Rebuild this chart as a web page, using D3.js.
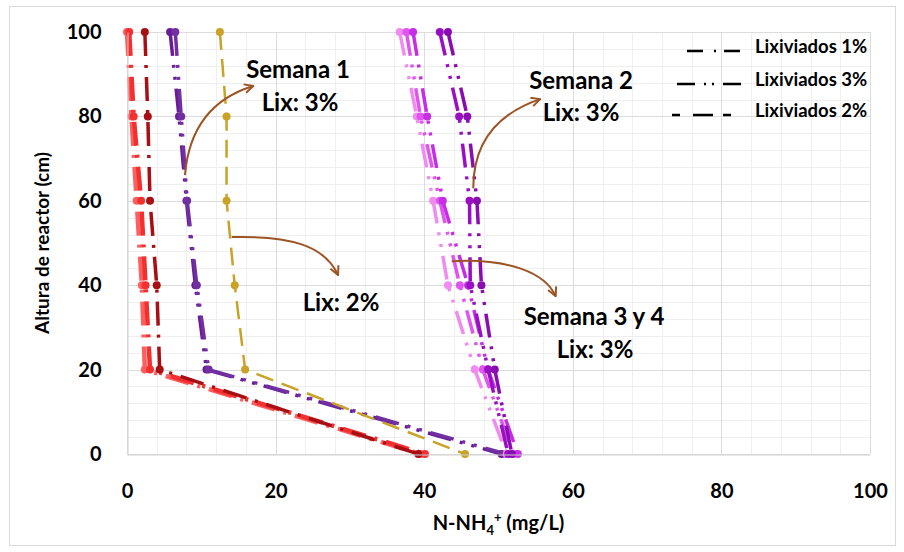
<!DOCTYPE html>
<html>
<head>
<meta charset="utf-8">
<script src="https://cdn.jsdelivr.net/npm/d3@7"></script>
<style>
  body { margin: 0; background: #fff; }
  text { font-family: Lato, "Open Sans", sans-serif; font-weight: 700; fill: #000; }
</style>
</head>
<body>
<div id="chart"></div>
<script>
// alturas del reactor (cm), comunes a todas las series
var heights = [100, 80, 60, 40, 20, 0];

// N-NH4+ (mg/L) leido en cada altura
// lixiviados 1%
var lix1_a = [0.0, 0.6, 1.3, 2.0, 2.4, 39.5];
var lix1_b = [0.3, 0.9, 1.9, 2.5, 3.1, 40.1];
var lix1_c = [2.4, 2.8, 3.1, 4.0, 4.4, 39.2];
// semana 1, lix 3%
var sem1_a = [5.8, 7.0, 8.0, 9.2, 10.7, 50.4];
var sem1_b = [6.5, 7.3, 8.1, 9.4, 11.0, 51.0];
// lix 2%
var lix2 = [12.5, 13.4, 13.4, 14.5, 15.9, 45.5];
// semana 3 y 4, lix 3%
var sem3_a = [36.7, 39.0, 41.2, 43.2, 46.8, 51.1];
var sem3_b = [37.6, 39.5, 42.1, 44.8, 47.9, 52.0];
var sem4_a = [38.5, 40.4, 42.5, 45.9, 48.6, 52.6];
// semana 2, lix 3%
var sem2_a = [42.1, 44.7, 46.1, 46.2, 48.6, 51.3];
var sem2_b = [43.2, 45.8, 47.1, 47.7, 49.5, 51.8];

var xTicks = [0, 20, 40, 60, 80, 100];
var yTicks = [0, 20, 40, 60, 80, 100];
var legendLabels = ["Lixiviados 1%", "Lixiviados 3%", "Lixiviados 2%"];

var width = 904, height = 552;
var margin = {left: 127, right: 34, top: 32, bottom: 98};

var svg = d3.select("#chart").append("svg")
    .attr("width", width)
    .attr("height", height);

var x = d3.scaleLinear().domain([0, 100]).range([margin.left, width - margin.right]);
var y = d3.scaleLinear().domain([0, 100]).range([height - margin.bottom, margin.top]);

var dashDot = "24,9,3,9";
var dashDotDot = "24,9,3,9,3,9";
var dashed = "18,9";

var series = [
    {v: lix1_a, color: "#ff5f5f", dash: dashDot, w: 4.5},
    {v: lix1_b, color: "#f23030", dash: dashDot, w: 4.5},
    {v: lix1_c, color: "#a80f14", dash: dashDot, w: 3.5},
    {v: sem1_a, color: "#6a1b9a", dash: dashDotDot, w: 3.5},
    {v: sem1_b, color: "#7030a0", dash: dashDotDot, w: 3.5},
    {v: lix2, color: "#c9a227", dash: dashed, w: 2.5},
    {v: sem3_a, color: "#f08cf0", dash: dashDotDot, w: 3.5},
    {v: sem3_b, color: "#e055ef", dash: dashDotDot, w: 3.5},
    {v: sem4_a, color: "#c62ee6", dash: dashDotDot, w: 3.5},
    {v: sem2_a, color: "#9b0fc4", dash: dashDotDot, w: 3.5},
    {v: sem2_b, color: "#8a0db0", dash: dashDotDot, w: 3.5}
];

function chart_frame() {
    svg.append("rect")
        .attr("x", 9.5).attr("y", 6.5)
        .attr("width", 886).attr("height", 539)
        .attr("fill", "#fff")
        .attr("stroke", "#d9d9d9");
}

function draw_grid() {
    var minor = d3.range(0, 101, 4);
    var g = svg.append("g");
    g.selectAll(".vminor").data(minor).enter().append("line")
        .attr("x1", function (d) { return Math.round(x(d)) + 0.5; })
        .attr("x2", function (d) { return Math.round(x(d)) + 0.5; })
        .attr("y1", y(0)).attr("y2", y(100))
        .attr("stroke", "#efefef");
    g.selectAll(".hminor").data(minor).enter().append("line")
        .attr("y1", function (d) { return Math.round(y(d)) + 0.5; })
        .attr("y2", function (d) { return Math.round(y(d)) + 0.5; })
        .attr("x1", x(0)).attr("x2", x(100))
        .attr("stroke", "#efefef");
    g.selectAll(".vmajor").data(xTicks).enter().append("line")
        .attr("x1", function (d) { return Math.round(x(d)) + 0.5; })
        .attr("x2", function (d) { return Math.round(x(d)) + 0.5; })
        .attr("y1", y(0)).attr("y2", y(100))
        .attr("stroke", "#dcdcdc");
    g.selectAll(".hmajor").data(yTicks).enter().append("line")
        .attr("y1", function (d) { return Math.round(y(d)) + 0.5; })
        .attr("y2", function (d) { return Math.round(y(d)) + 0.5; })
        .attr("x1", x(0)).attr("x2", x(100))
        .attr("stroke", "#dcdcdc");
}

function draw_axes() {
    var xAxis = d3.axisBottom(x).tickValues(xTicks).tickSize(0).tickPadding(29);
    var yAxis = d3.axisLeft(y).tickValues(yTicks).tickSize(0).tickPadding(26);

    var gx = svg.append("g")
        .attr("transform", "translate(0," + (Math.round(y(0)) + 0.5) + ")")
        .call(xAxis);
    var gy = svg.append("g")
        .attr("transform", "translate(" + (Math.round(x(0)) + 0.5) + ",0)")
        .call(yAxis);

    [gx, gy].forEach(function (g) {
        g.select(".domain").attr("stroke", "#d0d0d0");
        g.selectAll("text")
            .style("font-size", "20px")
            .style("font-family", "Lato, sans-serif")
            .style("font-weight", "700")
            .attr("fill", "#000");
    });

    svg.append("text")
        .attr("transform", "translate(49," + ((y(0) + y(100)) / 2) + ") rotate(-90)")
        .attr("text-anchor", "middle")
        .style("font-size", "19px")
        .text("Altura de reactor (cm)");

    var xt = svg.append("text")
        .attr("x", (x(0) + x(100)) / 2)
        .attr("y", 530)
        .attr("text-anchor", "middle")
        .style("font-size", "20px");
    xt.append("tspan").text("N-NH");
    xt.append("tspan").text("4").attr("dy", 5).style("font-size", "13px");
    xt.append("tspan").text("+").attr("dy", -13).style("font-size", "13px");
    xt.append("tspan").text(" (mg/L)").attr("dy", 8);
}

function draw_series() {
    var line = d3.line()
        .x(function (d) { return x(d[0]); })
        .y(function (d) { return y(d[1]); });

    series.forEach(function (s) {
        var pts = s.v.map(function (v, i) { return [v, heights[i]]; });
        var g = svg.append("g");
        g.append("path")
            .attr("d", line(pts))
            .attr("fill", "none")
            .attr("stroke", s.color)
            .attr("stroke-width", s.w)
            .attr("stroke-dasharray", s.dash);
        g.selectAll("circle").data(pts).enter().append("circle")
            .attr("cx", function (d) { return x(d[0]); })
            .attr("cy", function (d) { return y(d[1]); })
            .attr("r", 4)
            .attr("fill", s.color);
    });
}

function add_legend() {
    var rowsY = [51, 84, 115];
    var g = svg.append("g");
    legendLabels.forEach(function (d, i) {
        var ln = g.append("line")
            .attr("y1", rowsY[i]).attr("y2", rowsY[i])
            .attr("x2", 742)
            .attr("stroke", "#000")
            .attr("stroke-width", 2.5);
        if (i === 0) ln.attr("x1", 687).attr("stroke-dasharray", "16,11,2,8");
        if (i === 1) ln.attr("x1", 677).attr("stroke-dasharray", "18,9,2,6,2,9");
        if (i === 2) ln.attr("x1", 672).attr("stroke-dasharray", "8,13,20,10");
        g.append("text")
            .attr("x", 755)
            .attr("y", rowsY[i] + 2)
            .style("font-size", "18.5px")
            .text(d);
    });
}

function add_notes() {
    var brown = "#9c5424";
    svg.append("defs").append("marker")
        .attr("id", "arrow")
        .attr("viewBox", "0 0 10 10")
        .attr("refX", 9).attr("refY", 5)
        .attr("markerWidth", 11).attr("markerHeight", 11)
        .attr("markerUnits", "userSpaceOnUse")
        .attr("orient", "auto")
        .append("path")
        .attr("d", "M1,1 L9,5 L1,9")
        .attr("fill", "none")
        .attr("stroke", brown)
        .attr("stroke-width", 1.8);

    // curvas en unidades de datos
    var arrows = [
        [[7.8, 66.1], [8.6, 82.7], [17.0, 87.2]],
        [[14.1, 51.4], [21.9, 51.7], [26.6, 49.5], [28.4, 42.4]],
        [[46.6, 63.0], [46.6, 78.7], [55.6, 84.1]],
        [[43.7, 45.7], [51.5, 46.4], [56.3, 42.9], [57.7, 37.4]]
    ];
    arrows.forEach(function (a) {
        var p = a.map(function (d) { return x(d[0]) + "," + y(d[1]); });
        var d = p.length === 3 ? "M" + p[0] + " Q" + p[1] + " " + p[2]
                               : "M" + p[0] + " C" + p[1] + " " + p[2] + " " + p[3];
        svg.append("path")
            .attr("d", d)
            .attr("fill", "none")
            .attr("stroke", brown)
            .attr("stroke-width", 2)
            .attr("marker-end", "url(#arrow)");
    });

    var notes = [
        {t: "Semana 1", x: 298, y: 78},
        {t: "Lix: 3%", x: 300, y: 111},
        {t: "Lix: 2%", x: 341, y: 311},
        {t: "Semana 2", x: 581, y: 89},
        {t: "Lix: 3%", x: 581, y: 121},
        {t: "Semana 3 y 4", x: 594, y: 325},
        {t: "Lix: 3%", x: 595, y: 358}
    ];
    svg.selectAll(".note").data(notes).enter().append("text")
        .attr("x", function (d) { return d.x; })
        .attr("y", function (d) { return d.y; })
        .attr("text-anchor", "middle")
        .style("font-size", "24px")
        .text(function (d) { return d.t; });
}

chart_frame();
draw_grid();
draw_series();
draw_axes();
add_legend();
add_notes();
</script>
</body>
</html>
